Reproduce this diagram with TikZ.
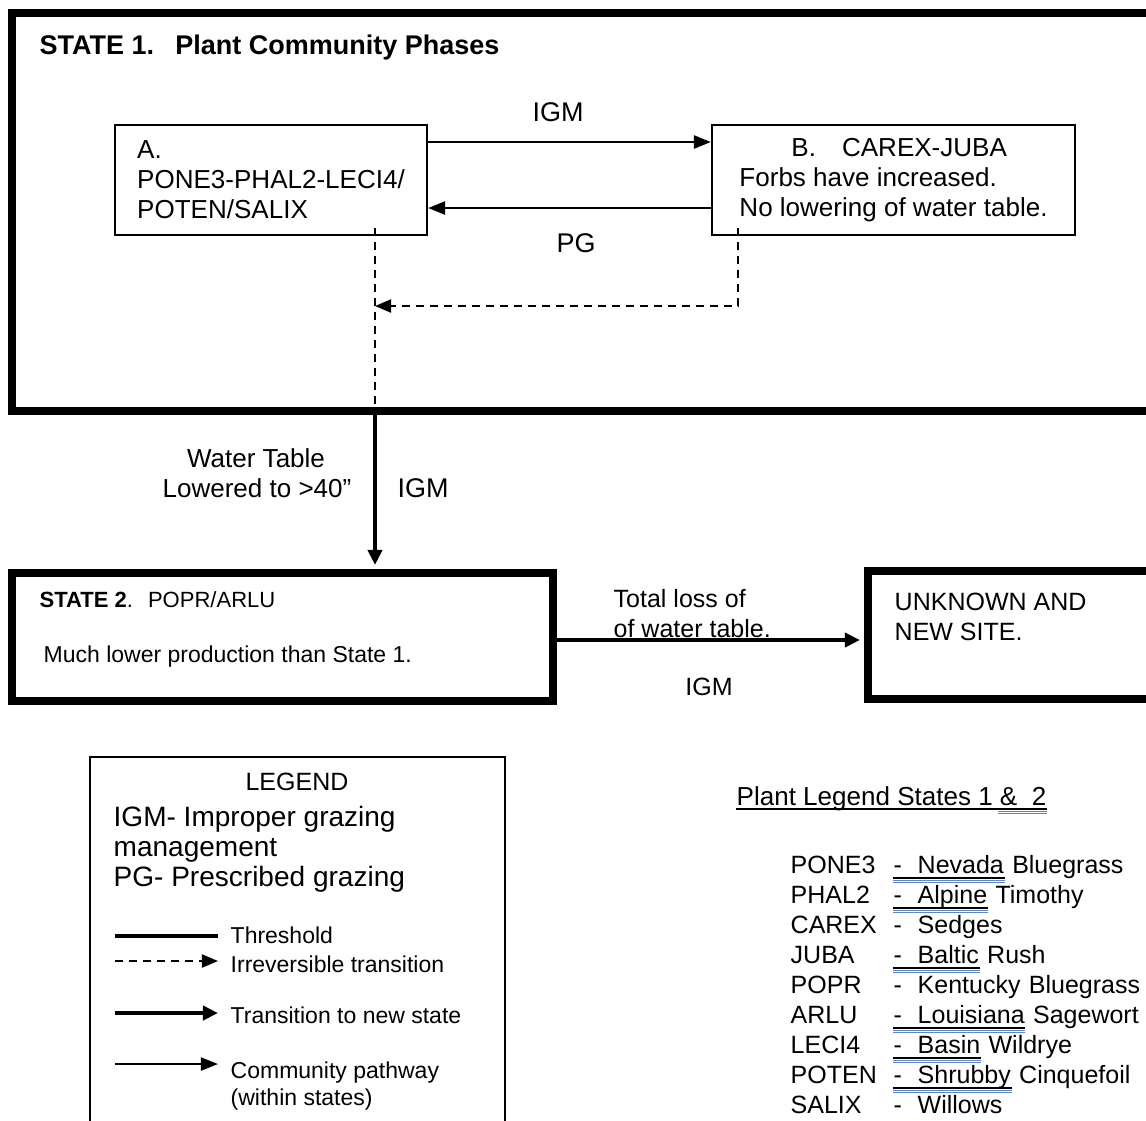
\documentclass[tikz,border=0pt]{standalone}
\usepackage{fontspec}
\setmainfont{Liberation Sans}
\usetikzlibrary{arrows.meta}
\definecolor{spell}{RGB}{95,135,200}
\newcommand{\szT}{\fontsize{7.68pt}{8.54pt}\selectfont}
\newcommand{\szB}{\fontsize{7.40pt}{8.54pt}\selectfont}
\newcommand{\szC}{\fontsize{7.11pt}{8.54pt}\selectfont}
\newcommand{\szD}{\fontsize{6.54pt}{8.54pt}\selectfont}
\newcommand{\szE}{\fontsize{6.26pt}{8.54pt}\selectfont}
\newcommand{\szF}{\fontsize{7.97pt}{8.54pt}\selectfont}
\tikzset{
 threshold/.style={draw, line width=0.08cm, inner sep=0pt},
 phase/.style={draw, line width=0.02cm, inner sep=0pt, align=left, font=\szB},
 pathway/.style={line width=0.025cm, -{Triangle[length=0.17cm,width=0.13cm]}},
 transit/.style={line width=0.04cm, -{Triangle[length=0.15cm,width=0.14cm]}},
 irrev/.style={line width=0.02cm, dash pattern=on 0.08cm off 0.06cm},
 irrevtip/.style={irrev, -{Triangle[length=0.16cm,width=0.13cm]}},
 lbl/.style={inner sep=0pt, anchor=base west},
 mid/.style={inner sep=0pt, anchor=base},
}

\begin{document}
\begin{tikzpicture}[x=0.01cm, y=-0.01cm]
 \useasboundingbox (0,0) rectangle (1146,1120);
 \clip (0,0) rectangle (1146,1120);

 \node[threshold, minimum width=11.48cm, minimum height=3.975cm] (s1) at (586,212.25) {};
 \node[lbl, font=\szT\bfseries] (s1t) at (39,54) {STATE 1.\hspace{0.21cm}Plant Community Phases};
 \node[phase, minimum width=3.12cm, minimum height=1.1cm] (a) at (271,180) {A.\\PONE3-PHAL2-LECI4/\\POTEN/SALIX};
 \node[phase, minimum width=3.63cm, minimum height=1.1cm] (b) at (893.5,180) {\hspace*{0.52cm}B.\hspace{0.26cm}CAREX-JUBA\\Forbs have increased.\\No lowering of water table.};
 \draw[pathway] (a.east |- 0,142) -- (b.west |- 0,142);
 \draw[pathway] (b.west |- 0,208) -- (a.east |- 0,208);
 \node[mid, font=\szT] (igm1) at (558,121) {IGM};
 \node[mid, font=\szT] (pg1) at (576,252) {PG};

 \coordinate (da) at (375,228);
 \coordinate (db) at (738,228);
 \coordinate (dj) at (375,306);
 \draw[irrev] (da) -- (da |- s1.south);
 \draw[irrevtip] (db) |- (dj);

 \node[threshold, minimum width=5.41cm, minimum height=1.28cm] (s2) at (282.5,637) {};
 \node[threshold, minimum width=2.92cm, minimum height=1.28cm] (unk) at (1014,635) {};
 \draw[transit, shorten >=0.04cm] (da |- s1.south) -- (da |- s2.north);
 \node[mid, font=\szB] (wt1) at (256,467) {Water Table};
 \node[mid, font=\szB] (wt2) at (257,497) {Lowered to >40''};
 \node[lbl, font=\szT] (igm2) at (397,497) {IGM};

 \node[lbl, font=\szE] (s2t) at (39,607) {\textbf{STATE 2}.\hspace{0.15cm}POPR/ARLU};
 \node[lbl, font=\szD] (s2d) at (43,662) {Much lower production than State 1.};
 \node[lbl, font=\szC] (u1) at (894,610) {UNKNOWN AND};
 \node[lbl, font=\szC] (u2) at (894,640) {NEW SITE.};
 \draw[transit, shorten >=0.04cm] (s2.east |- 0,640) -- (unk.west |- 0,640);
 \node[lbl, font=\szC] (tl1) at (613,607) {Total loss of};
 \node[lbl, font=\szC] (tl2) at (613,637) {of water table.};
 \node[mid, font=\szC] (igm3) at (709,695) {IGM};

 % legend
 \node[draw, line width=0.02cm, minimum width=4.15cm, minimum height=3.83cm] (leg) at (297.5,948.5) {};
 \node[mid, font=\szC] (legt) at (297,790) {LEGEND};
 \node[lbl, font=\szF] (l1) at (113,826) {IGM- Improper grazing};
 \node[lbl, font=\szF] (l2) at (113,856) {management};
 \node[lbl, font=\szF] (l3) at (113,886) {PG- Prescribed grazing};
 \draw[line width=0.04cm] (115,936) -- (218,936);
 \draw[irrevtip] (115,961) -- (218,961);
 \draw[transit] (115,1013) -- (218,1013);
 \draw[pathway, line width=0.02cm] (115,1064) -- (218,1064);
 \node[lbl, font=\szD] (k1) at (230,943) {Threshold};
 \node[lbl, font=\szD] (k2) at (230,972) {Irreversible transition};
 \node[lbl, font=\szD] (k3) at (230,1023) {Transition to new state};
 \node[lbl, font=\szD] (k4) at (230,1078) {Community pathway};
 \node[lbl, font=\szD] (k5) at (230,1105) {(within states)};

 % plant legend
 \node[lbl, font=\szB] (pt) at (736,805) {Plant Legend States 1 \&\ \ 2};
 \draw[line width=0.012cm] ([yshift=-0.04cm]pt.base west) -- ([yshift=-0.04cm]pt.base east);
 \draw[spell, line width=0.01cm] (998,811) -- (pt.base east |- 0,811);
 \draw[spell, line width=0.01cm] (998,813) -- (pt.base east |- 0,813);
 \foreach \cd/\wa/\wb/\sp [count=\i] in {PONE3/Nevada/Bluegrass/1, PHAL2/Alpine/Timothy/1, CAREX/Sedges//0, JUBA/Baltic/Rush/1, POPR/Kentucky/Bluegrass/0, ARLU/Louisiana/Sagewort/1, LECI4/Basin/Wildrye/1, POTEN/Shrubby/Cinquefoil/1, SALIX/Willows//0} {
  \pgfmathsetmacro\yy{843+30*\i}
  \node[lbl, font=\szC] (c\i) at (790,\yy) {\cd};
  \node[lbl, font=\szC] (d\i) at (893,\yy) {-};
  \node[lbl, font=\szC] (w\i) at (917,\yy) {\wa};
  \node[lbl, font=\szC] (r\i) at (w\i.base east) {\ \wb};
  \ifnum\sp=1
   \draw[line width=0.012cm] ([yshift=-0.05cm]d\i.base west) -- ([yshift=-0.05cm]w\i.base east);
   \draw[spell, line width=0.01cm] ([yshift=-0.07cm]d\i.base west) -- ([yshift=-0.07cm]w\i.base east);
   \draw[spell, line width=0.01cm] ([yshift=-0.09cm]d\i.base west) -- ([yshift=-0.09cm]w\i.base east);
  \fi
 }
\end{tikzpicture}
\end{document}
